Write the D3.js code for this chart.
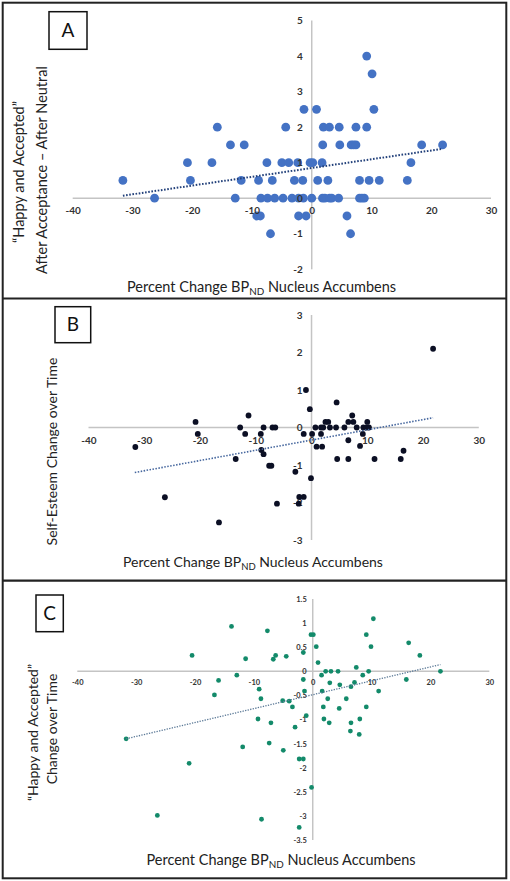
<!DOCTYPE html>
<html><head><meta charset="utf-8">
<script src="https://cdn.jsdelivr.net/npm/d3@7"></script>
<style>body{margin:0;background:#fff} svg{display:block} text{font-family:Lato,"Open Sans",sans-serif}</style>
</head><body><svg id="c" width="510" height="881"></svg>
<script>
// ---------- data ----------
const xTicks = [-40, -30, -20, -10, 0, 10, 20, 30];
const aYTicks = [-2, -1, 0, 1, 2, 3, 4, 5];
const bYTicks = [-3, -2, -1, 0, 1, 2, 3];
const cYTicks = [-3.5, -3, -2.5, -2, -1.5, -1, -0.5, 0, 0.5, 1, 1.5];

// Panel A: "Happy and Accepted" after acceptance - after neutral
const aX = [9.2, 10.1, -1.3, 0.8, 10.4,
  -15.8, -4.35, 1.95, 2.96, 4.6, 7.4, 9.2,
  -13.6, -11.3, 1.84, 4.7, 6.6, 7.0, 7.4, 18.4, 21.9,
  -20.8, -16.7, -7.5, -5.0, -3.85, -2.34, -0.28, 0.17, 1.73, 16.6,
  -31.6, -20.3, -11.8, -8.9, -6.6, -2.9, -1.5, 1.0, 2.7, 8.0, 9.6, 11.3, 16.0,
  -26.3, -12.8, -8.5, -7.4, -6.2, -4.8, -3.3, -2.2, -1.4, 0, 1.8, 2.2, 3.0, 3.35, 4.5, 8.0, 8.4, 8.8,
  -9.2, -8.6, -2.2, -0.95, 5.9,
  -6.9, 6.5];
const aY = [4, 3.5, 2.5, 2.5, 2.5,
  2, 2, 2, 2, 2, 2, 2,
  1.5, 1.5, 1.5, 1.5, 1.5, 1.5, 1.5, 1.5, 1.5,
  1, 1, 1, 1, 1, 1, 1, 1, 1, 1,
  0.5, 0.5, 0.5, 0.5, 0.5, 0.5, 0.5, 0.5, 0.5, 0.5, 0.5, 0.5, 0.5,
  0, 0, 0, 0, 0, 0, 0, 0, 0, 0, 0, 0, 0, 0, 0, 0, 0, 0,
  -0.5, -0.5, -0.5, -0.5, -0.5,
  -1, -1];
const aTrendX = [-31.6, 21.9];
const aTrendY = [0.07, 1.39];

// Panel B: self-esteem change over time
const bX = [21.8, -1.0, 4.5, -0.3, -11.3, 7.3,
  -20.8, 2.5, 3.0, 6.6, 7.5, 10.0,
  -12.8, -8.6, -7.0, -6.5, 0.7, 1.7, 2.1, 3.3, 4.4, 5.9, 8.1, 9.3, 9.9, 10.3,
  -20.4, -11.9, -9.1, -1.4, 0.1, 1.7, 9.2,
  6.6, 8.7, -31.6, 0.9, 1.9, -9.0, -8.6,
  -13.6, 4.6, 6.6, 11.3, 16.0, 16.5,
  -7.6, -7.2, -2.9, -0.1, -2.2, -1.4, -2.3, -6.2, -26.3, -16.6];
const bY = [2.1, 1.0, 0.67, 0.49, 0.32, 0.32,
  0.15, 0.15, 0.15, 0.15, 0.15, 0.15,
  0, 0, 0, 0, 0, 0, 0, 0, 0, 0, 0, 0, 0, 0,
  -0.17, -0.17, -0.17, -0.17, -0.17, -0.17, -0.17,
  -0.34, -0.49, -0.52, -0.51, -0.51, -0.6, -0.71,
  -0.84, -0.84, -0.84, -0.84, -0.84, -0.62,
  -1.02, -1.02, -1.18, -1.35, -1.85, -1.85, -2.03, -2.03, -1.86, -2.53];
const bTrendX = [-31.7, 21.8];
const bTrendY = [-1.2, 0.26];

// Panel C: "Happy and Accepted" change over time
const cX = [-13.8, -20.5, -16.0, -12.9, -16.7, -31.7,
  -7.7, -11.4, -6.7, -6.3, -4.5, -1.6, -0.3, 0.1, 0.6, 0.9,
  10.3, 9.1, 9.9, 16.3, 18.2, 21.7,
  2.2, 3.1, 4.3, 9.5, 7.4, 1.5, 8.5, 15.9, -1.6,
  2.9, 4.6, 7.1, 6.5, -9.1, 1.6, -1.4, 11.2,
  -8.8, -5.1, -4.0, 2.55, 5.7, -3.45, 1.8, 4.5, 9.1,
  -9.3, -7.1, -3.0, -1.1, 1.9, 2.8, 6.5, 8.0, 6.4, 7.9,
  -11.9, -7.4, -5.0, -21.0, -2.3, -1.6, -0.2, -26.4, -8.7, -2.3];
const cY = [0.93, 0.33, -0.19, -0.08, -0.49, -1.40,
  0.84, 0.26, 0.25, 0.33, 0.31, 0.39, 0.76, 0.76, 0.51, 0.18,
  1.09, 0.76, 0.51, 0.59, 0.33, 0,
  0, 0, 0, 0, 0.08, -0.08, -0.08, -0.17, -0.17,
  -0.24, -0.28, -0.23, -0.32, -0.37, -0.41, -0.41, -0.41,
  -0.57, -0.61, -0.62, -0.57, -0.57, -0.74, -0.74, -0.77, -0.74,
  -0.99, -1.07, -1.16, -0.92, -0.99, -1.07, -1.07, -0.99, -1.24, -1.31,
  -1.57, -1.49, -1.64, -1.91, -1.82, -1.82, -2.41, -2.99, -3.07, -3.24];
const cTrendX = [-31.7, 21.7];
const cTrendY = [-1.4, 0.14];

// ---------- drawing ----------
const svg = d3.select('#c');
const fmt = d => String(d);

function panel(p) {
  const x = d3.scaleLinear().domain([-40, 30]).range(p.xRange);
  const y = d3.scaleLinear().domain(p.yDomain).range(p.yRange);
  const g = svg.append('g');
  const axisColor = '#c4c4c4';
  g.append('line').attr('x1', x(-40)).attr('x2', x(30)).attr('y1', y(0)).attr('y2', y(0))
    .attr('stroke', axisColor).attr('stroke-width', 1.5);
  g.append('line').attr('x1', x(0)).attr('x2', x(0)).attr('y1', y(p.yDomain[0])).attr('y2', y(p.yDomain[1]))
    .attr('stroke', axisColor).attr('stroke-width', 1.5);

  function labels() {
    const ax = g.append('g').attr('transform', `translate(0,${y(0)})`)
      .call(d3.axisBottom(x).tickValues(xTicks).tickSize(0).tickPadding(p.xPad).tickFormat(fmt));
    ax.select('.domain').remove();
    ax.attr('font-family', 'Lato, sans-serif').attr('font-size', p.tickFont).attr('font-weight', p.tickWeight).attr('color', '#333');
    const ay = g.append('g').attr('transform', `translate(${x(0)},0)`)
      .call(d3.axisLeft(y).tickValues(p.yTicks).tickSize(0).tickPadding(p.yPad).tickFormat(fmt));
    ay.select('.domain').remove();
    ay.attr('font-family', 'Lato, sans-serif').attr('font-size', p.tickFont).attr('font-weight', p.tickWeight).attr('color', '#333');
  }
  if (!p.labelsOnTop) labels();

  g.append('g').selectAll('circle').data(d3.zip(p.xs, p.ys)).join('circle')
    .attr('cx', d => x(d[0])).attr('cy', d => y(d[1])).attr('r', p.r)
    .attr('fill', p.color);

  g.append('line').attr('x1', x(p.tx[0])).attr('x2', x(p.tx[1]))
    .attr('y1', y(p.ty[0])).attr('y2', y(p.ty[1]))
    .attr('stroke', p.trendColor).attr('stroke-width', p.trendW).attr('stroke-dasharray', p.dash);

  if (p.labelsOnTop) labels();

  // x title
  const t = g.append('text').attr('x', p.xTitle[0]).attr('y', p.xTitle[1])
    .attr('text-anchor', 'middle').attr('font-size', p.titleFont).attr('fill', '#222');
  t.append('tspan').text('Percent Change BP');
  t.append('tspan').attr('font-size', '0.68em').attr('dy', 3).text('ND');
  t.append('tspan').attr('dy', -3).text(' Nucleus Accumbens');

  // y title lines
  p.yTitles.forEach(l => {
    g.append('text').attr('transform', `translate(${l[1]},${l[2]}) rotate(-90)`)
      .attr('text-anchor', 'middle').attr('font-size', p.yTitleFont).attr('fill', '#222').text(l[0]);
  });

  // letter box
  const b = p.box;
  g.append('rect').attr('x', b[1]).attr('y', b[2]).attr('width', b[3]).attr('height', b[4])
    .attr('fill', '#fff').attr('stroke', '#111').attr('stroke-width', 1.5);
  g.append('text').attr('x', b[1] + b[3] / 2).attr('y', b[2] + b[4] / 2 + 6.5)
    .attr('text-anchor', 'middle').attr('font-size', 19).attr('fill', '#111').text(b[0]);
}

panel({
  xs: aX, ys: aY, tx: aTrendX, ty: aTrendY,
  xRange: [72.7, 491], yDomain: [-2, 5], yRange: [269.3, 20.5], yTicks: aYTicks,
  r: 4.4, color: '#4472c4', trendColor: '#22407a', trendW: 2, dash: '1.6,1.6',
  xPad: 9, yPad: 9, tickFont: 10, tickWeight: 'bold', labelsOnTop: true,
  xTitle: [261.5, 292.3], titleFont: 14.5, yTitleFont: 14.5,
  yTitles: [['\u201cHappy and Accepted\u201d', 24, 172], ['After Acceptance \u2013 After Neutral', 46.5, 170]],
  box: ['A', 49, 11.7, 38, 37.6]
});
panel({
  xs: bX, ys: bY, tx: bTrendX, ty: bTrendY,
  xRange: [88.5, 478.8], yDomain: [-3, 3], yRange: [540, 315], yTicks: bYTicks,
  r: 2.9, color: '#0b0f24', trendColor: '#46679e', trendW: 1.6, dash: '1.5,1.5',
  xPad: 9, yPad: 9, tickFont: 10, tickWeight: 'bold', labelsOnTop: false,
  xTitle: [253, 566.7], titleFont: 14, yTitleFont: 14,
  yTitles: [['Self-Esteem Change over Time', 56.5, 451.5]],
  box: ['B', 55, 306.7, 35.7, 36]
});
panel({
  xs: cX, ys: cY, tx: cTrendX, ty: cTrendY,
  xRange: [77.3, 489.3], yDomain: [-3.5, 1.5], yRange: [840, 599], yTicks: cYTicks,
  r: 2.4, color: '#138a6a', trendColor: '#5a7896', trendW: 1.3, dash: '1.3,1.3',
  xPad: 8, yPad: 6, tickFont: 7.5, tickWeight: 'bold', labelsOnTop: false,
  xTitle: [281, 865], titleFont: 14.5, yTitleFont: 14,
  yTitles: [['\u201cHappy and Accepted\u201d', 38, 732.5], ['Change over Time', 57, 729]],
  box: ['C', 36, 595, 27.3, 36.7]
});

// panel frames
svg.append('rect').attr('x', 2.7).attr('y', 2.7).attr('width', 503.6).attr('height', 875.6)
  .attr('fill', 'none').attr('stroke', '#222').attr('stroke-width', 2);
[298.5, 580.7].forEach(v => svg.append('line').attr('x1', 2.7).attr('x2', 506.3).attr('y1', v).attr('y2', v)
  .attr('stroke', '#222').attr('stroke-width', 2.2));
</script></body></html>
